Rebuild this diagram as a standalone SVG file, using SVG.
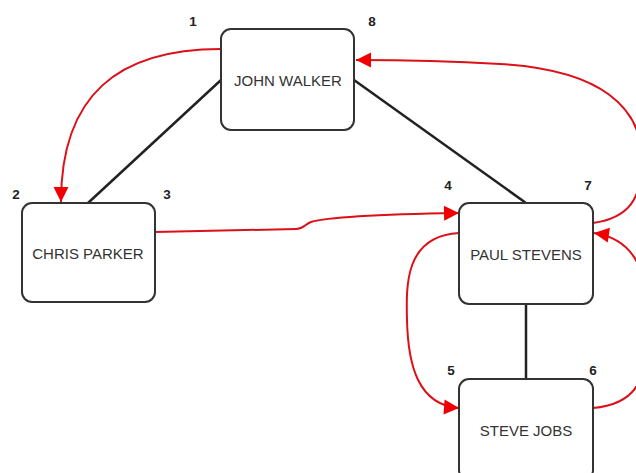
<svg xmlns="http://www.w3.org/2000/svg" width="636" height="473" viewBox="0 0 636 473">
  <style>
    .box { fill: #ffffff; stroke: #333333; stroke-width: 2; }
    .name { font-family: "Liberation Sans", Arial, sans-serif; font-size: 15px; fill: #333333; text-anchor: middle; dominant-baseline: central; }
    .num { font-family: "Liberation Sans", Arial, sans-serif; font-size: 13.5px; font-weight: bold; fill: #222222; text-anchor: middle; dominant-baseline: central; }
    .link { fill: none; stroke: #222222; stroke-width: 2.5; }
    .flow { fill: none; stroke: #dc1018; stroke-width: 2; marker-end: url(#arrow); }
  </style>
  <defs>
    <marker id="arrow" markerUnits="userSpaceOnUse" markerWidth="18" markerHeight="18" viewBox="0 0 18 18" refX="16" refY="9" orient="auto">
      <path d="M1,1.5 L16,9 L1,16.5 Z" fill="#f00000"/>
    </marker>
  </defs>

  <g id="connectors">
    <!-- plain relations -->
    <line class="link" x1="221" y1="80" x2="88" y2="203"/>
    <line class="link" x1="354" y1="80" x2="526" y2="203"/>
    <line class="link" x1="526" y1="304" x2="526" y2="379"/>
    <!-- numbered flow -->
    <path class="flow" d="M221,49 C118,49 61,95 61,202"/>
    <path class="flow" d="M155,232 L296,229 C304,229 305,224 311,222 C330,216 400,214 459,213"/>
    <path class="flow" d="M459,233 C405,236 406,285 407,320 C408,365 418,405 459,408"/>
    <path class="flow" d="M593,408 C638,404 648,380 648,320 C648,262 628,238 594,233"/>
    <path class="flow" d="M593,223 C628,218 642,200 642,160 C642,108 602,70 500,64 C450,61 400,60 356,60"/>
  </g>

  <g id="john-walker">
    <rect class="box" x="221" y="29" width="133" height="101" rx="10"/>
    <text class="name" x="288" y="80">JOHN WALKER</text>
  </g>
  <g id="chris-parker">
    <rect class="box" x="22" y="203" width="133" height="99" rx="10"/>
    <text class="name" x="88" y="253">CHRIS PARKER</text>
  </g>
  <g id="paul-stevens">
    <rect class="box" x="459" y="203" width="134" height="101" rx="10"/>
    <text class="name" x="526" y="254">PAUL STEVENS</text>
  </g>
  <g id="steve-jobs">
    <rect class="box" x="459" y="379" width="134" height="101" rx="10"/>
    <text class="name" x="526" y="430">STEVE JOBS</text>
  </g>

  <g id="step-numbers">
    <text class="num" x="193" y="21">1</text>
    <text class="num" x="16" y="194">2</text>
    <text class="num" x="167" y="194">3</text>
    <text class="num" x="448" y="185">4</text>
    <text class="num" x="451" y="370">5</text>
    <text class="num" x="593" y="370">6</text>
    <text class="num" x="588" y="185">7</text>
    <text class="num" x="372" y="21">8</text>
  </g>
</svg>
